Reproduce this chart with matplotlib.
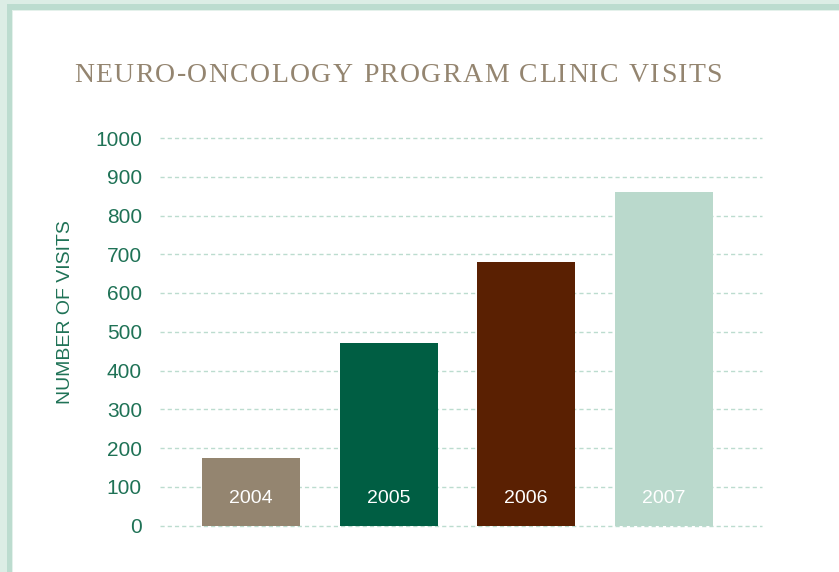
import matplotlib.pyplot as plt
from matplotlib.patches import Rectangle

# clinic visits per year
years = ['2004', '2005', '2006', '2007']
visits = [175, 470, 680, 860]
bar_colors = ['#948570', '#005e43', '#5a2002', '#bad9cc']
yticks = list(range(0, 1001, 100))
title = 'NEURO-ONCOLOGY PROGRAM CLINIC VISITS'

green = '#1f7256'
taupe = '#948570'

fig = plt.figure(figsize=(8.39, 5.72), dpi=100)
fig.patch.set_facecolor('white')

# frame bands along the top and left edges
W, H = 839, 572
def band(x, y, w, h, color):
    fig.patches.append(Rectangle((x / W, 1 - (y + h) / H), w / W, h / H,
                                 transform=fig.transFigure, color=color, lw=0, zorder=0))
band(0, 0, W, 4, '#dcede5')
band(0, 0, 7, H, '#dcede5')
band(7, 4, W, 6, '#bcdccf')
band(7, 4, 5, H, '#bcdccf')
band(12, 10, W, 1, '#e4f1eb')
band(12, 10, 1, H, '#e4f1eb')

ax = fig.add_axes([160 / W, 46.5 / H, 602 / W, 387.5 / H])
x = range(len(years))
ax.bar(x, visits, width=0.713, color=bar_colors, zorder=3)

for xi, yr in zip(x, years):
    ax.text(xi, 70, yr, ha='center', va='center', color='white',
            fontsize=14, family='Liberation Sans', zorder=4)

ax.set_xlim(-0.662, 3.716)
ax.set_ylim(0, 1000)
ax.set_yticks(yticks)
ax.set_yticklabels([str(t) for t in yticks], fontsize=15, color=green,
                   family='Liberation Sans')
ax.tick_params(axis='y', length=0, pad=13)
ax.set_xticks([])
for s in ax.spines.values():
    s.set_visible(False)
for t in yticks:
    ax.axhline(t, color='#bcdccf', lw=1, ls=(0, (3, 2.2)), zorder=1, clip_on=False)

fig.text(66 / W, 1 - 312 / H, 'NUMBER OF VISITS', rotation=90, ha='center', va='center',
         fontsize=14, color=green, family='Liberation Sans')

# title drawn letter by letter so it can be tracked out
renderer = fig.canvas.get_renderer()
x0, x1 = 74.0, 722.0
kw = dict(fontsize=20, color=taupe, family='Liberation Serif', va='center', ha='left')
widths = []
for ch in title:
    t = fig.text(0, 0, ch if ch != ' ' else 'n', **kw)
    widths.append(t.get_window_extent(renderer).width * (0.55 if ch == ' ' else 1))
    t.remove()
track = (x1 - x0 - sum(widths)) / (len(title) - 1)
cx = x0
for ch, w in zip(title, widths):
    if ch != ' ':
        fig.text(cx / W, 1 - 75 / H, ch, **kw)
    cx += w + track

fig.savefig('out.png', dpi=100, facecolor='white')
